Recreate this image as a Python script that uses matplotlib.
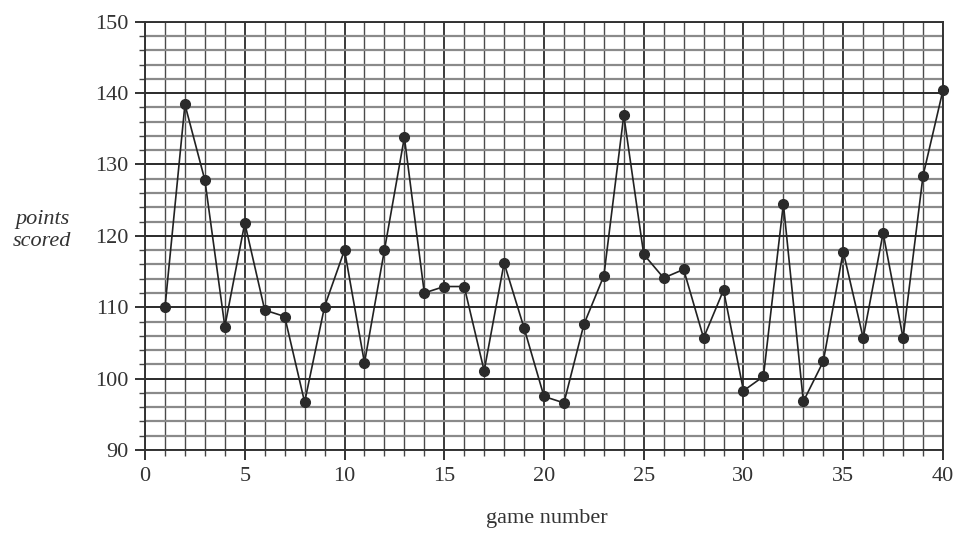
import numpy as np
import matplotlib
matplotlib.use("Agg")
import matplotlib.pyplot as plt
from matplotlib.ticker import MultipleLocator

# Points scored in each game
games = list(range(1, 41))
points = [110, 138.4, 127.8, 107.3, 121.8, 109.6, 108.7, 96.7, 110.1, 118,
          102.2, 118, 133.8, 112, 112.9, 112.9, 101.1, 116.2, 107.1, 97.5,
          96.6, 107.6, 114.4, 136.9, 117.4, 114.1, 115.3, 105.7, 112.4, 98.3,
          100.3, 124.5, 96.8, 102.4, 117.8, 105.7, 120.4, 105.7, 128.4, 140.4]

x_ticks = [0, 5, 10, 15, 20, 25, 30, 35, 40]
y_ticks = [90, 100, 110, 120, 130, 140, 150]

plt.rcParams["font.family"] = ["Liberation Serif", "DejaVu Serif"]

fig = plt.figure(figsize=(9.58, 5.34), dpi=100)
ax = fig.add_axes([0.1514, 0.1573, 0.8329, 0.8021])

ax.set_xlim(0, 40)
ax.set_ylim(90, 150)

# Graph-paper grid: fine lines every game / every 2 points, heavier on the tens
ax.xaxis.set_major_locator(MultipleLocator(5))
ax.xaxis.set_minor_locator(MultipleLocator(1))
ax.yaxis.set_major_locator(MultipleLocator(10))
ax.yaxis.set_minor_locator(MultipleLocator(2))
ax.grid(which="minor", axis="x", color="#4a4a4a", lw=1.0)
ax.grid(which="major", axis="x", color="#2a2a2a", lw=1.3)
ax.grid(which="minor", axis="y", color="#8a8a8a", lw=1.6)
ax.grid(which="major", axis="y", color="#2a2a2a", lw=1.4)
ax.set_axisbelow(True)

for s in ax.spines.values():
    s.set_color("#333333")
    s.set_linewidth(1.4)

ax.set_xticks(x_ticks)
ax.set_yticks(y_ticks)
ax.tick_params(which="major", length=7, width=1.3, color="#222222",
               labelsize=16, labelcolor="#333333", pad=5)
ax.tick_params(which="minor", length=4, width=1.0, color="#444444")

ax.plot(games, points, color="#222222", lw=1.2, marker="o", ms=7,
        mfc="#2a2a2a", mec="#2a2a2a", zorder=3, clip_on=False)

fig.text(0.571, 0.012, "game number", ha="center", va="bottom",
         fontsize=16, color="#333333")
fig.text(0.044, 0.568, "points\nscored", ha="center", va="center",
         fontsize=16, style="italic", color="#333333", linespacing=1.2)

fig.savefig("out.png", dpi=100, facecolor="white")
